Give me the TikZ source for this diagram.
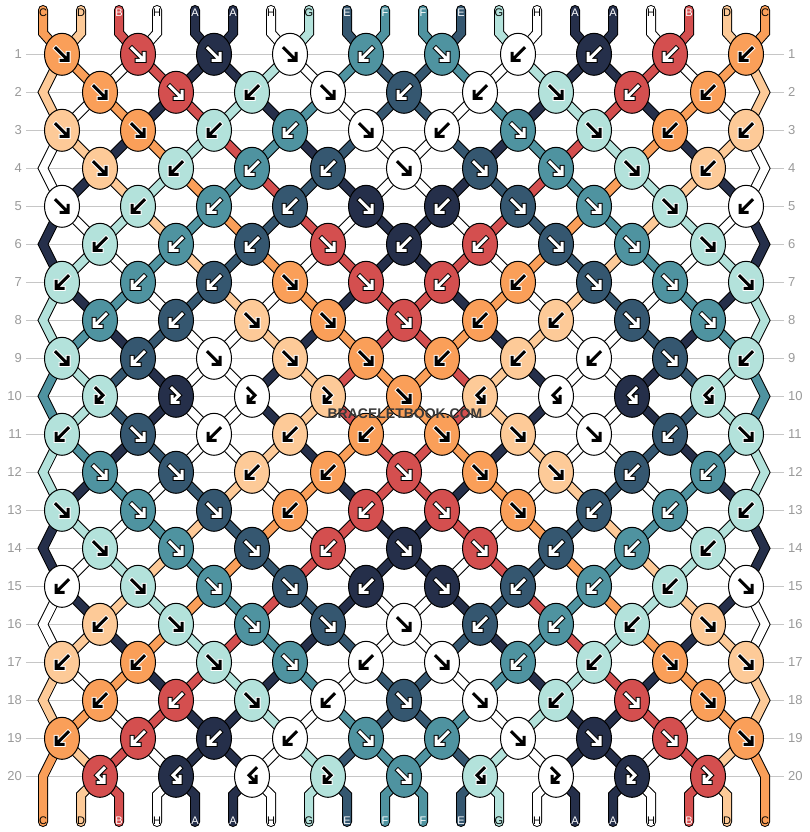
\documentclass[tikz,border=0pt]{standalone}
\usepackage{fontspec}
\setmainfont{Liberation Sans}
\usetikzlibrary{shapes.geometric}

\definecolor{cA}{HTML}{252F4A}
\definecolor{cB}{HTML}{D44F4F}
\definecolor{cC}{HTML}{FA9F59}
\definecolor{cD}{HTML}{FDCA98}
\definecolor{cE}{HTML}{355770}
\definecolor{cF}{HTML}{4F93A0}
\definecolor{cG}{HTML}{B3E2DB}
\definecolor{cH}{HTML}{FFFFFF}
% arrow / label colour and halo for each thread
\colorlet{tA}{white}\colorlet{tB}{white}\colorlet{tC}{black}\colorlet{tD}{black}
\colorlet{tE}{white}\colorlet{tF}{white}\colorlet{tG}{black}\colorlet{tH}{black}
\colorlet{hA}{black}\colorlet{hB}{black}\colorlet{hC}{white}\colorlet{hD}{white}
\colorlet{hE}{black}\colorlet{hF}{black}\colorlet{hG}{white}\colorlet{hH}{white}
\definecolor{rowline}{HTML}{C6C6C6}
\definecolor{rownum}{HTML}{9A9A9A}
\definecolor{wmark}{HTML}{3A3A3A}

% knot colour: left thread for f and fb, right thread for b and bf
\def\pickf{\lcol}\def\pickfb{\lcol}\def\pickb{\rcol}\def\pickbf{\rcol}

\tikzset{
  strand/.style={draw=black, line width=1, double distance=8, line join=miter},
  knot/.style={ellipse, draw=black, line width=1, minimum width=35, minimum height=42, inner sep=0pt},
  threadlabel/.style={font=\fontsize{11}{13}\selectfont, inner sep=0pt},
  rowlabel/.style={font=\fontsize{13}{15}\selectfont, text=rownum, inner sep=0pt},
  glyph/.style={line width=#1, line cap=rect, line join=miter},
  pics/f/.style={code={\foreach \w/\cc in {5/h,3/t}{\edef\gc{\cc\kc}
      \draw[glyph=\w, draw=\gc] (-6,-6) -- (5,5) (6,-1) -- (6,6) -- (-1,6);}}},
  pics/b/.style={code={\foreach \w/\cc in {5/h,3/t}{\edef\gc{\cc\kc}
      \draw[glyph=\w, draw=\gc] (6,-6) -- (-5,5) (-6,-1) -- (-6,6) -- (1,6);}}},
  pics/fb/.style={code={\foreach \w/\cc in {5/h,3/t}{\edef\gc{\cc\kc}
      \draw[glyph=\w, draw=\gc] (-4,-8) -- (3,-1) -- (-3,5) (-4,0) -- (-4,6) -- (2,6);}}},
  pics/bf/.style={code={\foreach \w/\cc in {5/h,3/t}{\edef\gc{\cc\kc}
      \draw[glyph=\w, draw=\gc] (4,-8) -- (-3,-1) -- (3,5) (4,0) -- (4,6) -- (-2,6);}}},
}

\begin{document}
\begin{tikzpicture}[x=1pt, y=-1pt]
\useasboundingbox (0,0) rectangle (810,832);
\fill[white] (0,0) rectangle (810,832);

% thread order before each row (row 0 = top)
\foreach \row/\st in {
  0/{C,D,B,H,A,A,H,G,E,F,F,E,G,H,A,A,H,B,D,C},
  1/{D,C,H,B,A,A,G,H,F,E,E,F,H,G,A,A,B,H,C,D},
  2/{D,H,C,A,B,G,A,F,H,E,E,H,F,A,G,B,A,C,H,D},
  3/{H,D,A,C,G,B,F,A,E,H,H,E,A,F,B,G,C,A,D,H},
  4/{H,A,D,G,C,F,B,E,A,H,H,A,E,B,F,C,G,D,A,H},
  5/{A,H,G,D,F,C,E,B,H,A,A,H,B,E,C,F,D,G,H,A},
  6/{A,G,H,F,D,E,C,H,B,A,A,B,H,C,E,D,F,H,G,A},
  7/{G,A,F,H,E,D,H,C,A,B,B,A,C,H,D,E,H,F,A,G},
  8/{G,F,A,E,H,H,D,A,C,B,B,C,A,D,H,H,E,A,F,G},
  9/{F,G,E,A,H,H,A,D,B,C,C,B,D,A,H,H,A,E,G,F},
  10/{F,G,E,A,H,H,A,D,B,C,C,B,D,A,H,H,A,E,G,F},
  11/{G,F,A,E,H,H,D,A,C,B,B,C,A,D,H,H,E,A,F,G},
  12/{G,A,F,H,E,D,H,C,A,B,B,A,C,H,D,E,H,F,A,G},
  13/{A,G,H,F,D,E,C,H,B,A,A,B,H,C,E,D,F,H,G,A},
  14/{A,H,G,D,F,C,E,B,H,A,A,H,B,E,C,F,D,G,H,A},
  15/{H,A,D,G,C,F,B,E,A,H,H,A,E,B,F,C,G,D,A,H},
  16/{H,D,A,C,G,B,F,A,E,H,H,E,A,F,B,G,C,A,D,H},
  17/{D,H,C,A,B,G,A,F,H,E,E,H,F,A,G,B,A,C,H,D},
  18/{D,C,H,B,A,A,G,H,F,E,E,F,H,G,A,A,B,H,C,D},
  19/{C,D,B,H,A,A,H,G,E,F,F,E,G,H,A,A,H,B,D,C},
  20/{C,D,B,H,A,A,H,G,E,F,F,E,G,H,A,A,H,B,D,C}}
  {\foreach \thr [count=\pos] in \st
    {\expandafter\xdef\csname st-\row-\pos\endcsname{\thr}}}

% row lines, row numbers and knot positions
\foreach \row in {1,...,20} {
  \pgfmathsetmacro\yy{54.3+38*(\row-1)}
  \draw[rowline, line width=1.2] (26,\yy) -- (784,\yy);
  \node[rowlabel, anchor=east] (rl-\row) at (22,\yy) {\row};
  \node[rowlabel, anchor=west] (rr-\row) at (788,\yy) {\row};
  \foreach \pos in {1,...,20} {
    \ifodd\row\relax
      \pgfmathsetmacro\xx{62+76*(int((\pos+1)/2)-1)}
    \else
      \ifnum\pos=1 \def\xx{43}\else\ifnum\pos=20 \def\xx{765}\else
        \pgfmathsetmacro\xx{100+76*(int(\pos/2)-1)}\fi\fi
    \fi
    \coordinate (p-\row-\pos) at (\xx,\yy);
  }
}

% threads between rows
\foreach \row in {2,...,20} {
  \pgfmathtruncatemacro\rp{\row-1}
  \foreach \pos in {2,...,19} {
    \edef\col{\csname st-\rp-\pos\endcsname}
    \draw[strand, double=c\col] (p-\rp-\pos) -- (p-\row-\pos);
  }
}
% edge threads
\foreach \row in {2,4,...,18} {
  \pgfmathtruncatemacro\rp{\row-1}
  \pgfmathtruncatemacro\rn{\row+1}
  \foreach \pos in {1,20} {
    \edef\col{\csname st-\rp-\pos\endcsname}
    \draw[strand, double=c\col] (p-\rp-\pos) -- (p-\row-\pos) -- (p-\rn-\pos);
  }
}

% tails with labels
\foreach \pos in {1,...,20} {
  \pgfmathsetmacro\xs{43+38*(\pos-1)}
  \coordinate (top-\pos) at (\xs,10);
  \coordinate (tb-\pos) at (\xs,33);
  \coordinate (bb-\pos) at (\xs,795);
  \coordinate (bot-\pos) at (\xs,822);
  \edef\col{\csname st-0-\pos\endcsname}
  \draw[strand, line cap=round, double=c\col] (top-\pos) -- (tb-\pos) -- (p-1-\pos);
  \node[threadlabel, text=t\col] (lt-\pos) at (\xs,12.5) {\col};
  \edef\col{\csname st-20-\pos\endcsname}
  \ifnum\pos=1 \def\from{p-19-1}\else\ifnum\pos=20 \def\from{p-19-20}\else\def\from{p-20-\pos}\fi\fi
  \ifnum\pos=1
    \draw[strand, line cap=round, double=c\col] (\from) -- (p-20-\pos) -- (bb-\pos) -- (bot-\pos);
  \else\ifnum\pos=20
    \draw[strand, line cap=round, double=c\col] (\from) -- (p-20-\pos) -- (bb-\pos) -- (bot-\pos);
  \else
    \draw[strand, line cap=round, double=c\col] (\from) -- (bb-\pos) -- (bot-\pos);
  \fi\fi
  \node[threadlabel, text=t\col] (lb-\pos) at (\xs,821) {\col};
}

% knots
\foreach \row/\ks in {
  1/{f,f,f,f,b,f,b,b,b,b},
  2/{f,f,b,f,b,b,f,b,b},
  3/{f,f,b,b,f,b,f,f,b,b},
  4/{f,b,b,b,f,f,f,f,b},
  5/{f,b,b,b,f,b,f,f,f,b},
  6/{b,b,b,f,b,b,f,f,f},
  7/{b,b,b,f,f,b,b,f,f,f},
  8/{b,b,f,f,f,b,b,f,f},
  9/{f,b,f,f,f,b,b,b,f,b},
  10/{fb,fb,fb,fb,f,bf,bf,bf,bf},
  11/{b,f,b,b,b,f,f,f,b,f},
  12/{f,f,b,b,f,f,f,b,b},
  13/{f,f,f,b,b,f,f,b,b,b},
  14/{f,f,f,b,f,f,b,b,b},
  15/{b,f,f,f,b,f,b,b,b,f},
  16/{b,f,f,f,f,b,b,b,f},
  17/{b,b,f,f,b,f,b,b,f,f},
  18/{b,b,f,b,f,f,b,f,f},
  19/{b,b,b,b,f,b,f,f,f,f},
  20/{bf,bf,bf,fb,f,bf,fb,fb,fb}} {
  \pgfmathtruncatemacro\rp{\row-1}
  \foreach \ty [count=\kn] in \ks {
    \ifodd\row\relax \pgfmathtruncatemacro\pl{2*\kn-1}\else \pgfmathtruncatemacro\pl{2*\kn}\fi
    \pgfmathtruncatemacro\pr{\pl+1}
    \edef\lcol{\csname st-\rp-\pl\endcsname}
    \edef\rcol{\csname st-\rp-\pr\endcsname}
    \edef\kc{\csname pick\ty\endcsname}
    \node[knot, fill=c\kc] (k-\row-\kn) at (p-\row-\pl) {};
    \pic at (k-\row-\kn) {\ty};
  }
}

\node[font=\bfseries\fontsize{14}{16}\selectfont, text=wmark] (mark) at (405,414) {BRACELETBOOK.COM};
\end{tikzpicture}
\end{document}
